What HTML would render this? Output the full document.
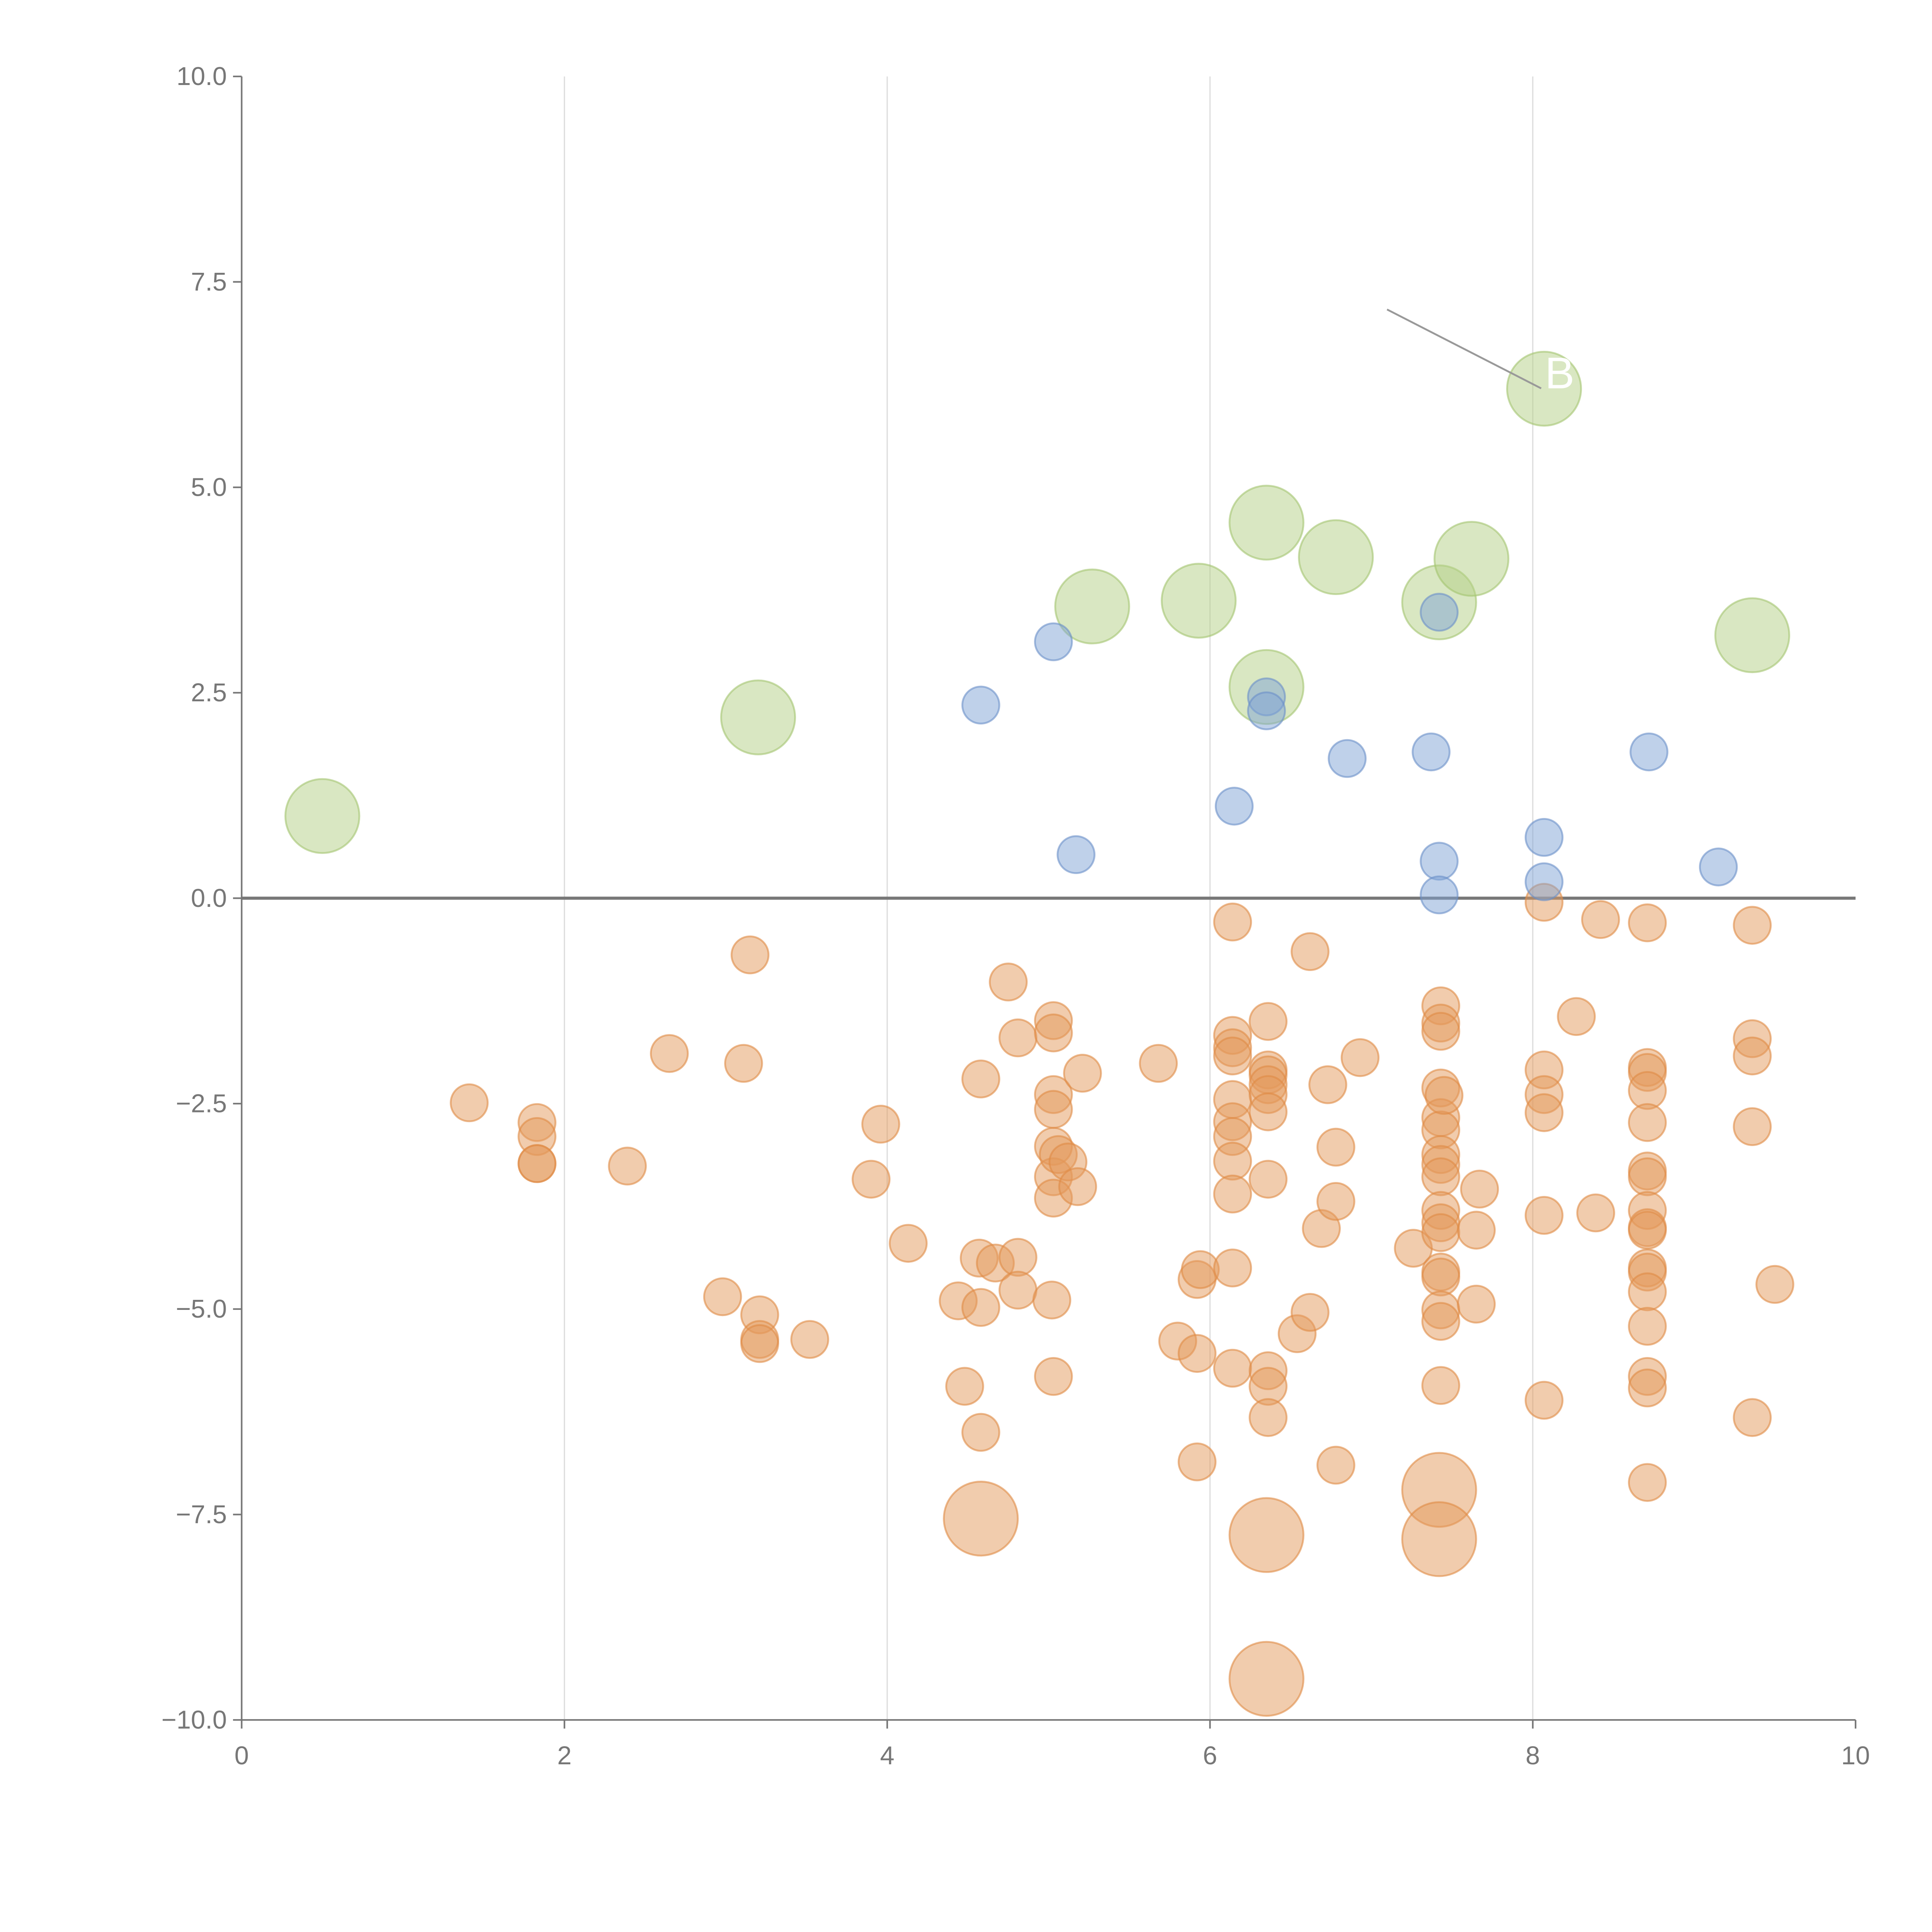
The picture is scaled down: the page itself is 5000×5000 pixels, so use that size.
<!DOCTYPE html>
<html><head><meta charset="utf-8"><style>
html,body{margin:0;padding:0;background:#fff;}
svg{display:block;font-family:"Liberation Sans",sans-serif;}
</style></head><body>
<svg id="chart" width="5000" height="5000" viewBox="0 0 1567 1567" xmlns="http://www.w3.org/2000/svg">
<g id="grid"></g>
<g id="axes"></g>
<g id="marks"></g>
<g id="ann"></g>
</svg>
<script>
const xTicks=[0,2,4,6,8,10];
const yTicks=[-10,-7.5,-5,-2.5,0,2.5,5,7.5,10];
const greenX=[0.5,3.2,5.27,5.93,6.35,6.78,7.42,7.62,6.35,8.07,9.36];
const greenY=[1.0,2.2,3.55,3.62,4.57,4.15,3.6,4.13,2.57,6.2,3.2];
const blueX=[4.58,5.03,5.17,6.15,6.35,6.35,6.85,7.37,7.42,7.42,7.42,8.07,8.07,8.72,9.15];
const blueY=[2.35,3.12,0.53,1.12,2.45,2.28,1.7,1.78,3.48,0.45,0.04,0.74,0.2,1.78,0.38];
const bigOrangeX=[4.58,6.35,7.42,7.42,6.35];
const bigOrangeY=[-7.55,-7.75,-7.2,-7.8,-9.5];
const orangeX=[
1.41, 1.83,1.83,1.83,1.83, 2.39, 2.65, 3.11, 3.15, 2.98, 3.21,3.21,3.21, 3.52, 3.9, 3.96, 4.13, 4.44, 4.48,
4.58,4.58,4.58, 4.57, 4.67, 4.75, 4.81,4.81,4.81, 5.02,
5.03,5.03,5.03,5.03,5.03,5.03,5.03,5.03, 5.06, 5.12, 5.18, 5.21, 5.68, 5.8, 5.92,5.92,5.92, 5.94,
6.14,6.14,6.14,6.14,6.14,6.14,6.14,6.14,6.14,6.14,6.14,
6.36,6.36,6.36,6.36,6.36,6.36,6.36,6.36,6.36,6.36,
6.54, 6.62,6.62, 6.69, 6.73, 6.78,6.78,6.78, 6.93, 7.26,
7.43,7.43,7.43,7.43,7.43,7.43,7.43,7.43,7.43,7.43,7.43,7.43,7.43,7.43,7.43,7.43,7.43,
7.45, 7.67, 7.65,7.65,
8.07,8.07,8.07,8.07,8.07,8.07, 8.27, 8.39, 8.42,
8.71,8.71,8.71,8.71,8.71,8.71,8.71,8.71,8.71,8.71,8.71,8.71,8.71,8.71,8.71,8.71,8.71,
9.36,9.36,9.36,9.36,9.36, 9.5];
const orangeY=[
-2.49, -2.73,-2.9,-3.23,-3.23, -3.26, -1.89, -2.01, -0.69, -4.85, -5.07,-5.37,-5.42, -5.37, -3.42, -2.75, -4.2, -4.9, -5.94,
-2.2,-4.98,-6.5, -4.38, -4.44, -1.02, -1.7,-4.37,-4.77, -4.89,
-1.49,-1.64,-2.39,-2.57,-3.02,-3.39,-3.65,-5.82, -3.12, -3.21, -3.51, -2.13, -2.01, -5.39, -5.54,-6.86,-4.64, -4.52,
-0.29,-1.67,-1.82,-1.92,-2.45,-2.72,-2.9,-3.2,-3.6,-4.5,-5.72,
-1.5,-2.09,-2.15,-2.27,-2.39,-2.6,-3.42,-5.75,-5.94,-6.32,
-5.3, -5.04,-0.65, -4.02, -2.27, -3.03,-3.69,-6.9, -1.94, -4.26,
-1.31,-1.52,-1.62,-2.31,-2.67,-2.82,-3.12,-3.24,-3.39,-3.8,-3.95,-4.07,-4.55,-4.61,-5.01,-5.15,-5.93,
-2.4, -3.54, -4.04,-4.94,
-0.05,-2.09,-2.39,-2.61,-3.86,-6.11, -1.44, -3.83, -0.26,
-0.3,-2.06,-2.12,-2.34,-2.73,-3.32,-3.39,-3.8,-4.01,-4.04,-4.5,-4.55,-4.79,-5.21,-5.82,-5.96,-7.11,
-0.33,-1.71,-1.92,-2.78,-6.32, -4.7];

const NS='http://www.w3.org/2000/svg';
const X0=196,X1=1505,Y0=1395,Y1=62;
function sx(v){return X0+(v-0)/(10-0)*(X1-X0);}
function sy(v){return Y0-(v+10)/20*(Y0-Y1);}
function mk(tag,attrs,parent){const e=document.createElementNS(NS,tag);for(const k in attrs)e.setAttribute(k,attrs[k]);parent.appendChild(e);return e;}
const grid=document.getElementById('grid'),axes=document.getElementById('axes'),marks=document.getElementById('marks'),ann=document.getElementById('ann');
xTicks.forEach(t=>{
  if(t>0&&t<10){const g=mk('line',{x1:sx(t),x2:sx(t),y1:Y1,y2:Y0,stroke:'#dddddd','stroke-width':1},grid);
  
  }
  const tk=mk('line',{x1:sx(t),x2:sx(t),y1:Y0,y2:Y0+7,stroke:'#777','stroke-width':1.3},axes);
  
  
  const tx=mk('text',{x:sx(t),y:Y0+36,'text-anchor':'middle','font-size':21,fill:'#777'},axes);
  tx.textContent=String(t);
  
  
});
yTicks.forEach(t=>{
  const tk=mk('line',{x1:X0-7,x2:X0,y1:sy(t),y2:sy(t),stroke:'#777','stroke-width':1.3},axes);
  
  
  const tx=mk('text',{x:X0-12,y:sy(t)+7,'text-anchor':'end','font-size':21,fill:'#777'},axes);
  tx.textContent=(t<0?'\u2212':'')+Math.abs(t).toFixed(1);
  
  
});
const ya=mk('line',{x1:X0,x2:X0,y1:Y1,y2:Y0,stroke:'#777','stroke-width':1.3},axes);


const xa=mk('line',{x1:X0,x2:X1,y1:Y0,y2:Y0,stroke:'#777','stroke-width':1.3},axes);


const zl=mk('line',{x1:X0,x2:X1,y1:sy(0),y2:sy(0),stroke:'#777','stroke-width':2.5},axes);



function draw(xs,ys,r,fill,stroke,name){
  xs.forEach((x,i)=>{
    const c=mk('circle',{cx:sx(x),cy:sy(ys[i]),r:r,fill:fill,'fill-opacity':0.5,stroke:stroke,'stroke-opacity':0.6,'stroke-width':1.5},marks);
    
    
  });
}
draw(orangeX,orangeY,15,'#e49a5c','#e08a45','bubble-orange');
draw(bigOrangeX,bigOrangeY,30,'#e49a5c','#e08a45','bubble-orange-large');
draw(greenX,greenY,30,'#b3cf85','#a3c470','bubble-green');
draw(blueX,blueY,15,'#7fa3d6','#6a90c8','bubble-blue');

const ll=mk('line',{x1:1125,y1:251,x2:1250,y2:315,stroke:'#999','stroke-width':1.5},ann);


const lb=mk('text',{x:1253,y:315,'font-size':36,fill:'#fff'},ann);
lb.textContent='B';


</script>
</body></html>
